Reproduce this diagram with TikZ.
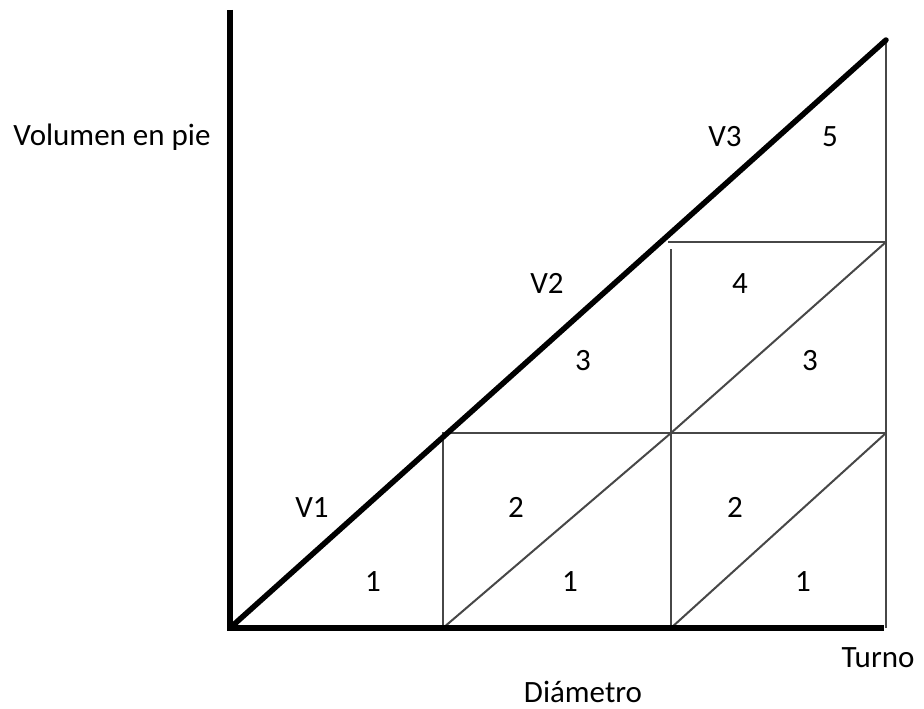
\documentclass[tikz,border=0pt]{standalone}
\usepackage{fontspec}
\setmainfont{Carlito}
\usepackage{tikz}
\usetikzlibrary{calc,positioning}

\begin{document}
\begin{tikzpicture}[x=1pt,y=-1pt,
    axisline/.style={black,line width=5.5pt},
    cellline/.style={black!72,line width=2pt},
    lbl/.style={font=\fontsize{31}{36}\selectfont,inner sep=0pt,anchor=center}]
    \useasboundingbox (0,0) rectangle (924,709);
    % corners of the cells
    \coordinate (O) at (230,628);
    \coordinate (ytop) at (230,10);
    \coordinate (xend) at (884,628);
    \coordinate (apex) at (886,40);
    \coordinate (a1) at (443,628);
    \coordinate (a2) at (671,628);
    \coordinate (a3) at (886,628);
    \coordinate (b0) at (443,433);
    \coordinate (b1) at (671,433);
    \coordinate (b2) at (886,433);
    \coordinate (c1) at (668,242);
    \coordinate (c2) at (886,242);
    % thin grid
    \draw[cellline] (a1) -- (b0) -- (b2);
    \draw[cellline] (a2) -- (b1) -- (671,249);
    \draw[cellline] (c1) -- (c2);
    \draw[cellline] (a3) -- (apex);
    \draw[cellline] (a1) -- (b1) -- (c2);
    \draw[cellline] (a2) -- (b2);
    % axes and main diagonal
    \draw[axisline] (ytop) -- (O) -- (xend);
    \draw[axisline,line cap=round] (O) -- (apex);
    % labels
    \node[lbl] (ylab) at (112,137) {Volumen en pie};
    \node[lbl] (v3) at (725,137) {V3};
    \node[lbl] (n5) at (830,137) {5};
    \node[lbl] (v2) at (547,283) {V2};
    \node[lbl] (n4) at (740,284) {4};
    \node[lbl] (n3a) at (583,361) {3};
    \node[lbl] (n3b) at (810,361) {3};
    \node[lbl] (v1) at (312,508) {V1};
    \node[lbl] (n2a) at (516,507) {2};
    \node[lbl] (n2b) at (735,507) {2};
    \node[lbl] (n1a) at (373,582) {1};
    \node[lbl] (n1b) at (570,582) {1};
    \node[lbl] (n1c) at (803,582) {1};
    \node[lbl] (xlab) at (878,658) {Turno};
    \node[lbl] (dlab) at (583,692) {Diámetro};
  \end{tikzpicture}
\end{document}
